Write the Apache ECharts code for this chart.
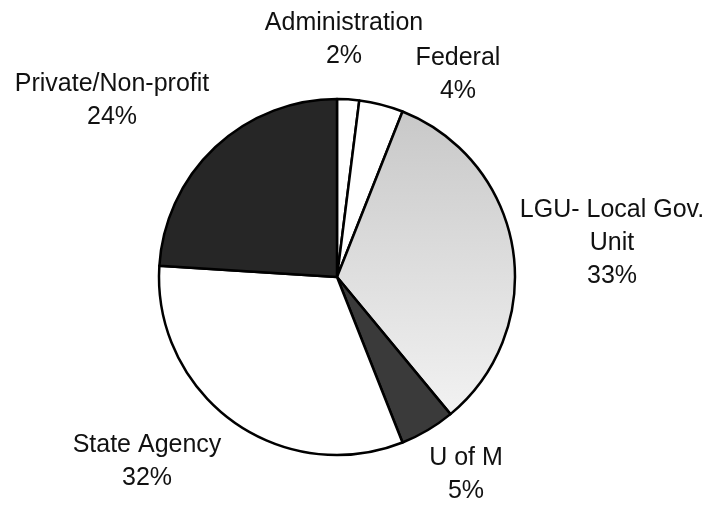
<!DOCTYPE html>
<html>
<head>
<meta charset="utf-8">
<title>Pie</title>
<script src="https://cdn.jsdelivr.net/npm/echarts@6/dist/echarts.min.js"></script>
<style>
    html, body { margin: 0; padding: 0; background: #fff; }
    #main { width: 712px; height: 505px; }
</style>
</head>
<body>
<div id="main"></div>
<script>
// data (percent, clockwise from 12 o'clock)
var categories = ['Administration', 'Federal', 'LGU- Local Gov.\nUnit', 'U of M', 'State Agency', 'Private/Non-profit'];
var shares = [2, 4, 33, 5, 32, 24];

;!function () {
    var myChart = echarts.init(document.getElementById('main'));

    var lgu = new echarts.graphic.LinearGradient(0, 0, 0, 1, [
        {offset: 0, color: '#c8c8c8'},
        {offset: 1, color: '#f2f2f2'}
    ]);
    var fills = ['#ffffff', '#ffffff', lgu, '#3a3a3a', '#ffffff', '#262626'];

    // where each label block sits (centre of text block)
    var labelSpots = [[344, 40], [458, 75], [612, 243], [466, 475], [147, 462], [112, 101]];

    var data = [];
    for (var i = 0; i < categories.length; i++) {
        data.push({
            name: categories[i],
            value: shares[i],
            itemStyle: {color: fills[i]}
        });
    }

    var option = {
        backgroundColor: '#fff',
        animation: false,
        series: [{
            type: 'pie',
            center: [337, 277],
            radius: 178,
            startAngle: 90,
            clockwise: true,
            data: data,
            itemStyle: {
                borderColor: '#000',
                borderWidth: 2.5
            },
            label: {
                show: true,
                position: 'outside',
                alignTo: 'none',
                overflow: 'none',
                width: 300,
                formatter: '{b}\n{c}%',
                fontFamily: 'Liberation Sans',
                fontSize: 25,
                lineHeight: 33,
                color: '#111',
                align: 'center'
            },
            labelLine: {show: false},
            labelLayout: function (params) {
                var p = labelSpots[params.dataIndex];
                return {x: p[0], y: p[1], align: 'center', verticalAlign: 'middle'};
            },
            emphasis: {disabled: true}
        }]
    };
    myChart.setOption(option);
}()
</script>
</body>
</html>
